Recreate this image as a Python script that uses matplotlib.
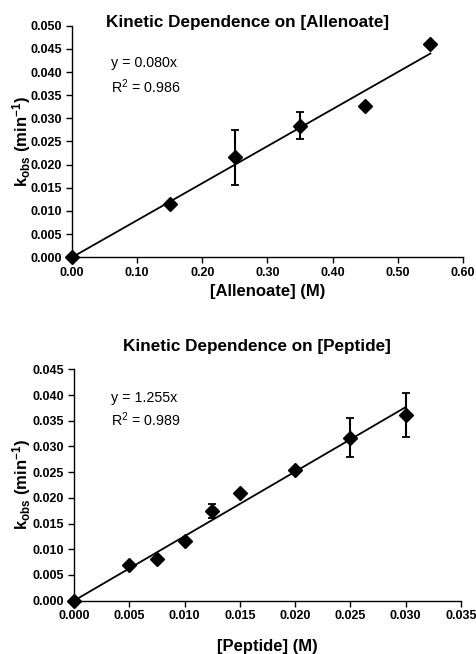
import matplotlib
matplotlib.use("Agg")
import matplotlib.pyplot as plt
import numpy as np

plt.rcParams['font.family'] = ['Liberation Sans', 'DejaVu Sans']
plt.rcParams['mathtext.fontset'] = 'custom'
plt.rcParams['mathtext.rm'] = 'Liberation Sans'
plt.rcParams['mathtext.bf'] = 'Liberation Sans:bold'
plt.rcParams['mathtext.it'] = 'Liberation Sans:italic'

# Top chart data
allen_x = [0.00, 0.15, 0.25, 0.35, 0.45, 0.55]
allen_y = [0.0000, 0.0115, 0.0216, 0.0284, 0.0326, 0.0460]
allen_err = [0, 0, 0.0059, 0.0029, 0, 0]
allen_slope = 0.080
allen_ticks_x = [0.00, 0.10, 0.20, 0.30, 0.40, 0.50, 0.60]
allen_ticks_y = [0.000, 0.005, 0.010, 0.015, 0.020, 0.025, 0.030, 0.035, 0.040, 0.045, 0.050]

# Bottom chart data
pep_x = [0.000, 0.005, 0.0075, 0.010, 0.0125, 0.015, 0.020, 0.025, 0.030]
pep_y = [0.0000, 0.0070, 0.0081, 0.0116, 0.0174, 0.0209, 0.0254, 0.0317, 0.0361]
pep_err = [0, 0, 0, 0, 0.0014, 0, 0, 0.0038, 0.0043]
pep_slope = 1.255
pep_ticks_x = [0.000, 0.005, 0.010, 0.015, 0.020, 0.025, 0.030, 0.035]
pep_ticks_y = [0.000, 0.005, 0.010, 0.015, 0.020, 0.025, 0.030, 0.035, 0.040, 0.045]

W, H = 477, 654
fig = plt.figure(figsize=(W/100, H/100), dpi=100)

def setup(ax, xs, ys, err, slope, tx, ty, xfmt, xlabel, eq, r2, eqx, eqy, r2y):
    xmax_fit = max(xs)
    ax.plot([0, xmax_fit], [0, slope*xmax_fit], color='black', lw=1.3, zorder=2)
    xe = [x for x, e in zip(xs, err) if e > 0]
    ye = [y for y, e in zip(ys, err) if e > 0]
    ee = [e for e in err if e > 0]
    ax.errorbar(xe, ye, yerr=ee, fmt='none', ecolor='black', elinewidth=1.5, capsize=3, capthick=1.3, zorder=3)
    ax.plot(xs, ys, 'D', color='black', markersize=7.5, zorder=4, clip_on=False)
    ax.set_xlim(tx[0], tx[-1])
    ax.set_ylim(ty[0], ty[-1])
    ax.set_xticks(tx)
    ax.set_yticks(ty)
    ax.set_xticklabels([xfmt.format(v) for v in tx], fontsize=9, fontweight='bold')
    ax.set_yticklabels(['{:.3f}'.format(v) for v in ty], fontsize=9, fontweight='bold')
    for s in ['top', 'right']:
        ax.spines[s].set_visible(False)
    for s in ['left', 'bottom']:
        ax.spines[s].set_linewidth(1.0)
    ax.tick_params(direction='out', length=4, width=1.0, pad=3)
    ax.set_xlabel(xlabel, fontsize=12, fontweight='bold')
    ax.set_ylabel(r'$\mathbf{k_{obs}}$ $\mathbf{(min^{-1})}$', fontsize=12, va='center')
    ax.text(eqx, eqy, eq, transform=ax.transAxes, fontsize=10.3, va='center')
    ax.text(eqx, r2y, r2, transform=ax.transAxes, fontsize=10.3, va='center')

ax1 = fig.add_axes([72/W, 1-257.3/H, (463-72)/W, (257.3-25.7)/H])
setup(ax1, allen_x, allen_y, allen_err, allen_slope, allen_ticks_x, allen_ticks_y,
      '{:.2f}', '[Allenoate] (M)', 'y = 0.080x', r'R$^2$ = 0.986', 0.10, 0.839, 0.735)
ax1.yaxis.set_label_coords(-0.128, 0.5)
ax1.xaxis.set_label_coords(0.5, -0.115)
fig.text(248/W, 1-22/H, 'Kinetic Dependence on [Allenoate]', ha='center', va='center',
         fontsize=12.3, fontweight='bold')

ax2 = fig.add_axes([74/W, 1-600.7/H, (461-74)/W, (600.7-369.3)/H])
setup(ax2, pep_x, pep_y, pep_err, pep_slope, pep_ticks_x, pep_ticks_y,
      '{:.3f}', '[Peptide] (M)', 'y = 1.255x', r'R$^2$ = 0.989', 0.096, 0.876, 0.781)
ax2.yaxis.set_label_coords(-0.135, 0.5)
ax2.xaxis.set_label_coords(0.5, -0.165)
fig.text(257/W, 1-346.7/H, 'Kinetic Dependence on [Peptide]', ha='center', va='center',
         fontsize=12.3, fontweight='bold')

fig.savefig('out.png', dpi=100)
